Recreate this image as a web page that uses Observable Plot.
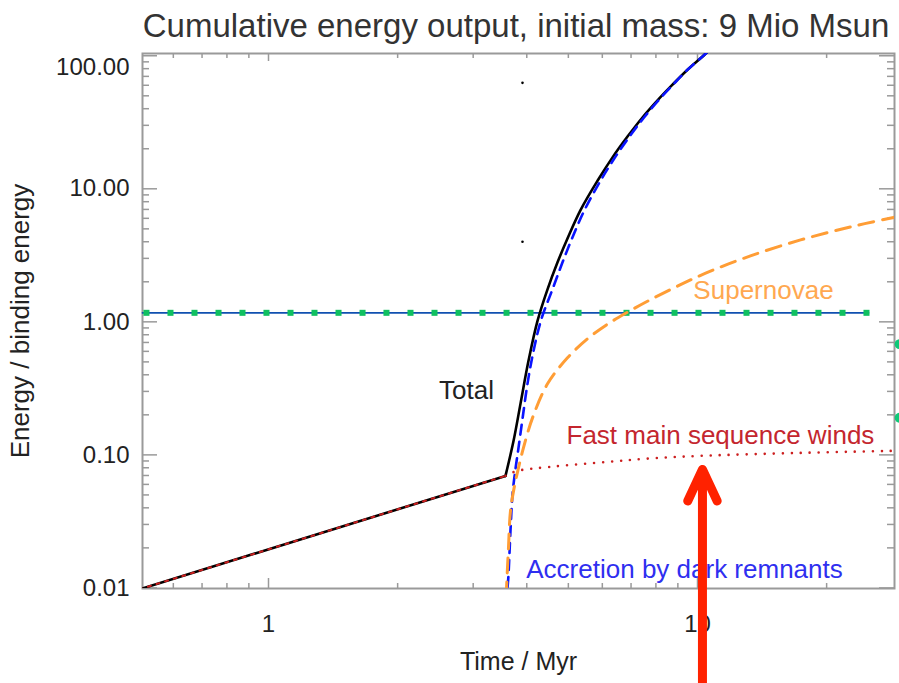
<!DOCTYPE html>
<html><head><meta charset="utf-8">
<script src="https://cdn.jsdelivr.net/npm/d3@7"></script>
<script src="https://cdn.jsdelivr.net/npm/@observablehq/plot@0.6"></script>
<style>
body{margin:0;background:#fff;font-family:"Liberation Sans",Arial,sans-serif;}
#title{height:40px;width:899px;position:relative;overflow:visible}
#title span{position:absolute;left:0;width:1032px;text-align:center;top:9px;font-size:33px;color:#333;line-height:33px;white-space:nowrap}
#chart svg{display:block}
</style></head><body>
<div id="title"><span>Cumulative energy output, initial mass: 9 Mio Msun</span></div>
<div id="chart"></div>
<script>
// ---- data (Time in Myr, energy / binding energy) ----
// first two points of totals / winds form the straight early segment
const totalTime  = [0.50, 3.568, 3.725, 3.867, 4.037, 4.237, 4.471, 4.718, 4.977, 5.337, 5.847, 6.338, 6.869, 7.443, 8.069, 8.745, 9.478, 10.44, 11.01];
const totalValue = [0.00975, 0.0695, 0.127, 0.2418, 0.5091, 1.017, 1.756, 2.802, 4.229, 6.915, 11.49, 17.23, 24.69, 34.37, 46.21, 60.63, 78.48, 103.5, 123];

const accretionTime  = [3.580, 3.606, 3.625, 3.665, 3.706, 3.765, 3.826, 3.909, 4.015, 4.148, 4.328, 4.592, 4.846, 5.099, 5.453, 5.942, 6.424, 6.942, 7.505, 8.112, 8.770, 9.478, 10.44, 11.01];
const accretionValue = [0.00565, 0.00983, 0.01231, 0.02684, 0.0509, 0.0785, 0.1129, 0.1865, 0.3419, 0.6053, 1.053, 1.756, 2.802, 4.229, 6.915, 11.49, 17.23, 24.69, 34.37, 46.21, 60.63, 78.48, 103.5, 123];

const snTime  = [3.568, 3.588, 3.625, 3.665, 3.745, 3.826, 3.929, 4.125, 4.471, 4.977, 5.541, 6.169, 6.869, 7.771, 9.129, 10.72, 13.29, 17.39, 22.73, 28.64, 29.73];
const snValue = [0.00565, 0.00983, 0.01965, 0.03795, 0.05848, 0.0799, 0.1129, 0.1897, 0.3419, 0.5362, 0.7453, 0.9594, 1.181, 1.469, 1.904, 2.405, 3.130, 4.128, 5.17, 6.095, 6.266];

const windTime  = [0.50, 3.568, 3.606, 3.805, 4.519, 6.169, 7.771, 10.16, 17.39, 28.64, 29.73];
const windValue = [0.00975, 0.0695, 0.0708, 0.0758, 0.0812, 0.0886, 0.0941, 0.0983, 0.1035, 0.1072, 0.1074];

const bindingLevel = 1.169;
const bindingRange = [0.5085, 25.04];
const bindingMarkerTime = [0.5194, 0.5909, 0.6722, 0.7647, 0.8697, 0.9892, 1.1254, 1.2800, 1.4562, 1.6566,
  1.8836, 2.1429, 2.4377, 2.7730, 3.1539, 3.5884, 4.0809, 4.6413, 5.2807, 6.0048, 6.8313, 7.7714,
  8.8409, 10.053, 11.436, 13.009, 14.80, 16.83, 19.14, 21.78, 24.77];

const strayTime = [3.909, 3.909];
const strayValue = [62.6, 3.995];
const edgeTime = [29.6, 29.6];
const edgeValue = [0.68, 0.19];

const labelTexts  = ["Total", "Supernovae", "Fast main sequence winds", "Accretion by dark remnants"];
const labelTimes  = [2.894, 14.25, 11.31, 9.327];
const labelValues = [0.303, 1.71, 0.139, 0.01366];

const arrowTime = 10.27, arrowFrom = 0.00191, arrowTo = 0.0777;

const xDomain = [0.5085, 28.79];
const yDomain = [0.0099, 104];
const xTickValues = [1, 10];
const xTickLabels = ["1", "10"];
const yTickValues = [0.01, 0.1, 1, 10, 100];
const yTickLabels = ["0.01", "0.10", "1.00", "10.00", "100.00"];

const xLabel = "Time / Myr";
const yLabel = "Energy / binding energy";

// ---- build ----
const zip = (a, b) => a.map((t, i) => ({t, v: b[i]}));
const W = 899, H = 643, mT = 13, mB = 95, mL = 142, mR = 5;
const plotH = H - mT - mB, plotW = W - mL - mR;
const isMajor = d => Math.abs(Math.log10(d) - Math.round(Math.log10(d))) < 1e-9;
const xTicksAll = d3.scaleLog().domain(xDomain).ticks();
const yTicksAll = d3.scaleLog().domain(yDomain).ticks().filter(d => d >= yDomain[0] && d <= yDomain[1]);
const axisColor = "#9a9a9a";
const totals = zip(totalTime, totalValue);
const winds = zip(windTime, windValue);

const chart = Plot.plot({
  width: W, height: H,
  marginTop: mT, marginBottom: mB, marginLeft: mL, marginRight: mR,
  style: {fontFamily: "'Liberation Sans', Arial, sans-serif", background: "#fff"},
  x: {type: "log", domain: xDomain, axis: null},
  y: {type: "log", domain: yDomain, axis: null},
  marks: [
    // ticks (inward)
    Plot.tickX(xTicksAll.filter(isMajor), {x: d => d, insetTop: plotH - 10, stroke: axisColor, strokeWidth: 1.5}),
    Plot.tickX(xTicksAll.filter(d => !isMajor(d)), {x: d => d, insetTop: plotH - 5, stroke: axisColor, strokeWidth: 1.5}),
    Plot.tickX(xTicksAll.filter(isMajor), {x: d => d, insetBottom: plotH - 8, stroke: axisColor, strokeWidth: 1.5}),
    Plot.tickX(xTicksAll.filter(d => !isMajor(d)), {x: d => d, insetBottom: plotH - 5, stroke: axisColor, strokeWidth: 1.5}),
    Plot.tickY(yTicksAll.filter(isMajor), {y: d => d, insetRight: plotW - 15, stroke: axisColor, strokeWidth: 1.5}),
    Plot.tickY(yTicksAll.filter(d => !isMajor(d)), {y: d => d, insetRight: plotW - 7, stroke: axisColor, strokeWidth: 1.5}),
    Plot.tickY(yTicksAll.filter(isMajor), {y: d => d, insetLeft: plotW - 15, stroke: axisColor, strokeWidth: 1.5}),
    Plot.tickY(yTicksAll.filter(d => !isMajor(d)), {y: d => d, insetLeft: plotW - 7, stroke: axisColor, strokeWidth: 1.5}),
    Plot.frame({stroke: axisColor, strokeWidth: 2}),

    // tick labels
    Plot.text(xTickValues.map((v, i) => ({v, s: xTickLabels[i]})), {x: "v", text: "s", frameAnchor: "bottom", lineAnchor: "middle", textAnchor: "middle", dy: 36, fontSize: 24, fill: "#222"}),
    Plot.text(yTickValues.map((v, i) => ({v, s: yTickLabels[i]})).filter(d => d.v < 100), {y: "v", text: "s", frameAnchor: "left", lineAnchor: "middle", dx: -13, textAnchor: "end", fontSize: 24, fill: "#222"}),
    Plot.text(yTickValues.map((v, i) => ({v, s: yTickLabels[i]})).filter(d => d.v >= 100), {y: "v", text: "s", frameAnchor: "left", lineAnchor: "middle", dx: -13, dy: 12, textAnchor: "end", fontSize: 24, fill: "#222"}),
    Plot.text([xLabel], {frameAnchor: "bottom", lineAnchor: "middle", textAnchor: "middle", dy: 73, fontSize: 25, fill: "#222"}),
    Plot.text([yLabel], {frameAnchor: "left", lineAnchor: "middle", textAnchor: "middle", dx: -122, rotate: -90, fontSize: 26, fill: "#222"}),

    // binding energy line
    Plot.line([{t: bindingRange[0], v: bindingLevel}, {t: bindingRange[1], v: bindingLevel}], {x: "t", y: "v", stroke: "#1050b0", strokeWidth: 1.8}),
    Plot.dot(bindingMarkerTime.map(t => ({t, v: bindingLevel})), {x: "t", y: "v", symbol: "square", r: 3.4, fill: "#10c060", stroke: "none"}),

    // curves
    Plot.line(totals.slice(0, 2), {x: "t", y: "v", stroke: "#000", strokeWidth: 2.6, clip: true}),
    Plot.line(totals.slice(1), {x: "t", y: "v", stroke: "#000", strokeWidth: 2.6, curve: "catmull-rom", clip: true}),
    Plot.line(zip(accretionTime, accretionValue), {x: "t", y: "v", stroke: "#0a14ff", strokeWidth: 2.6, strokeDasharray: "10,7", curve: "catmull-rom", clip: true}),
    Plot.line(zip(snTime, snValue), {x: "t", y: "v", stroke: "#ff9d35", strokeWidth: 3, strokeDasharray: "15,9", curve: "catmull-rom", clip: true}),
    Plot.line(winds.slice(0, 2), {x: "t", y: "v", stroke: "#cc1f1f", strokeWidth: 2, strokeDasharray: "3,6", clip: true}),
    Plot.line(winds.slice(1), {x: "t", y: "v", stroke: "#cc1f1f", strokeWidth: 2.6, strokeDasharray: "0,9", strokeLinecap: "round", curve: "catmull-rom", clip: true}),

    // stray marks
    Plot.dot(zip(strayTime, strayValue), {x: "t", y: "v", r: 1.3, fill: "#000", stroke: "none"}),
    Plot.dot(zip(edgeTime, edgeValue), {x: "t", y: "v", r: 5, fill: "#10c878", stroke: "none"}),

    // labels
    Plot.text([0], {x: labelTimes[0], y: labelValues[0], text: [labelTexts[0]], fontSize: 26, fill: "#222"}),
    Plot.text([0], {x: labelTimes[1], y: labelValues[1], text: [labelTexts[1]], fontSize: 26, fill: "#ffa850"}),
    Plot.text([0], {x: labelTimes[2], y: labelValues[2], text: [labelTexts[2]], fontSize: 26, fill: "#c4262e"}),
    Plot.text([0], {x: labelTimes[3], y: labelValues[3], text: [labelTexts[3]], fontSize: 26, fill: "#2f2ff0"}),

    // annotation arrow
    Plot.arrow([0], {x1: arrowTime, y1: arrowFrom, x2: arrowTime, y2: arrowTo, stroke: "#ff2200", strokeWidth: 9, headAngle: 50, headLength: 5.8, strokeLinecap: "round", strokeLinejoin: "round"})
  ]
});
document.getElementById("chart").appendChild(chart);
</script>
</body></html>
